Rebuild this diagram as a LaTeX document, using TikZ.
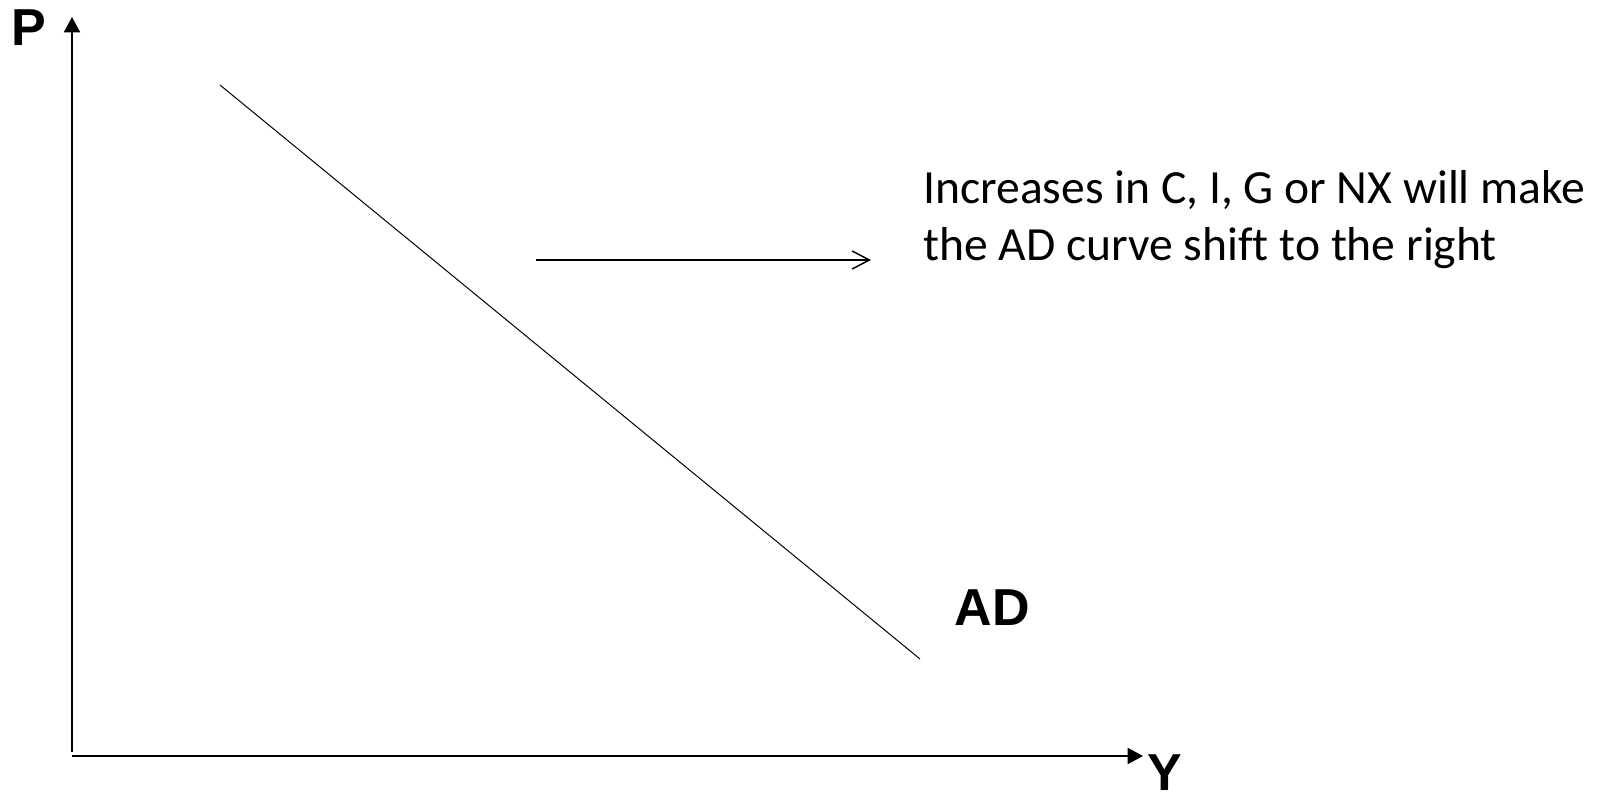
\documentclass[tikz,border=0pt]{standalone}
\usepackage{fontspec}
\setmainfont{Carlito}[Ligatures=NoCommon]
\newfontfamily\labelfont{Liberation Sans}
\usetikzlibrary{arrows.meta}

\begin{document}
\begin{tikzpicture}[x=0.75pt, y=-0.75pt,
    axis/.style={line width=1.5pt, -{Triangle[length=11.5pt, width=12pt]}},
    curve/.style={line width=0.75pt},
    shiftarrow/.style={line width=1.1pt, -{Straight Barb[length=13pt, width=13.5pt]}},
    axislabel/.style={inner sep=0pt, font=\labelfont\bfseries\fontsize{39}{44}\selectfont},
    note/.style={inner sep=0pt, anchor=base west, font=\fontsize{35.7}{43}\selectfont}]
    \useasboundingbox (0,0) rectangle (1604,799);
    % 1. Axes
    \coordinate (yfoot) at (72,752);
    \coordinate (ytip) at (72,17);
    \coordinate (xfoot) at (72,756);
    \coordinate (xtip) at (1143,756);
    \draw[axis] (yfoot) -- (ytip);
    \draw[axis] (xfoot) -- (xtip);
    \node[axislabel] (P) at (29,28) {P};
    \node[axislabel] (Y) at (1165,773) {Y};

    % 2. AD curve
    \coordinate (adtop) at (220,85);
    \coordinate (adbot) at (920,659);
    \draw[curve] (adtop) -- (adbot);
    \node[axislabel] (AD) at (992.5,608) {AD};

    % 3. Shift arrow and note
    \coordinate (shiftfrom) at (536,260);
    \coordinate (shiftto) at (871,260);
    \draw[shiftarrow] (shiftfrom) -- (shiftto);
    \node[note] (line1) at (923,203) {Increases in C, I, G or NX will make};
    \node[note] (line2) at (923,260) {the AD curve shift to the right};
\end{tikzpicture}
\end{document}
